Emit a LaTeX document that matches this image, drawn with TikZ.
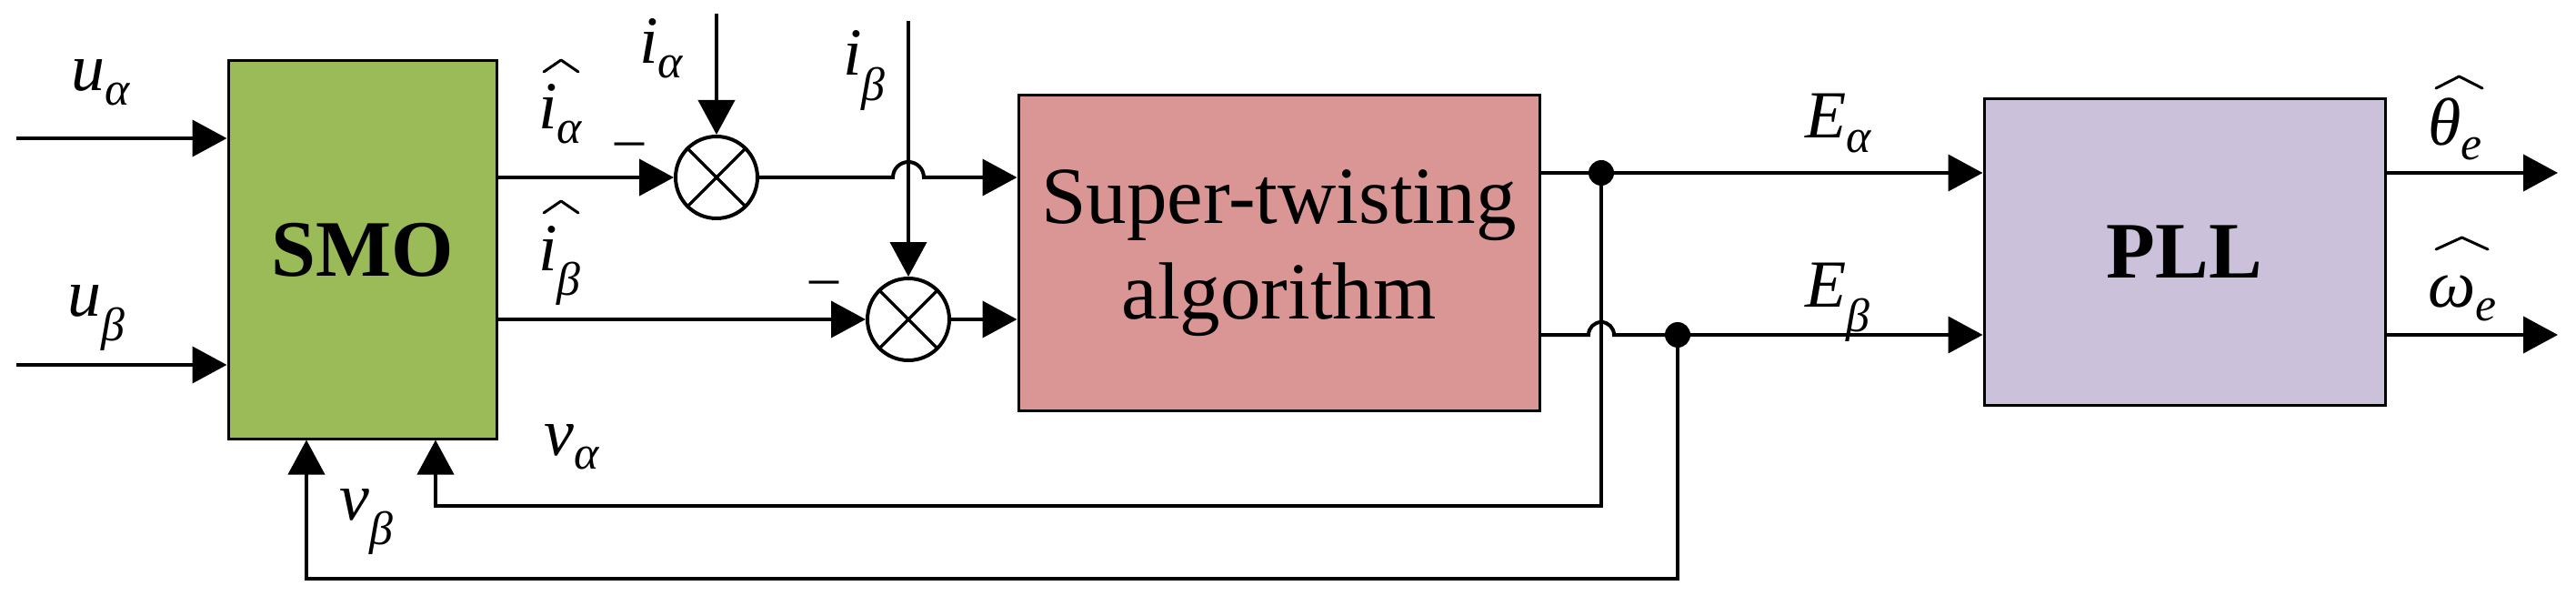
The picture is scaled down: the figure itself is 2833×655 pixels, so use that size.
\documentclass[tikz,border=0pt]{standalone}
\usepackage{amsmath}
\usepackage{fontspec}
\setmainfont{Liberation Serif}
\usetikzlibrary{arrows.meta,calc}
\definecolor{smogreen}{RGB}{155,187,89}
\definecolor{stpink}{RGB}{217,150,148}
\definecolor{pllpurple}{RGB}{204,193,218}
\newcommand{\lab}[2]{$\text{\textit{#1}}_{\text{\textit{#2}}}$}
% hat drawn over a label: node, left offset, right offset
\newcommand{\hatover}[3]{\draw[hatln] ($(#1.base west)+(#2,-63)$) -- ++({(#3-#2)/2},-13) -- ++({(#3-#2)/2},13);}
\begin{document}
\begin{tikzpicture}[x=1pt,y=-1pt,
  blk/.style={draw, line width=3pt, inner sep=0pt},
  wire/.style={line width=4pt},
  arr/.style={wire, -{Triangle[length=38pt,width=40pt]}},
  sumnode/.style={draw, circle, line width=4pt, minimum size=90pt, inner sep=0pt},
  lbl/.style={font=\fontsize{74}{80}\selectfont, inner sep=0pt, anchor=base west},
  hatln/.style={line width=3pt, line join=round, line cap=round},
  dotn/.style={circle, fill=black, minimum size=28pt, inner sep=0pt},
  minus/.style={font=\fontsize{64}{70}\selectfont, inner sep=0pt, anchor=base}]
\useasboundingbox (0,0) rectangle (2833,655);
% blocks
\node[blk, fill=smogreen, minimum width=295pt, minimum height=415pt,
      font=\fontsize{88}{100}\selectfont\bfseries] (smo) at (398.5,274.5) {SMO};
\node[blk, fill=stpink, minimum width=573pt, minimum height=346pt, align=center,
      font=\fontsize{89}{105}\selectfont] (st) at (1406.5,278) {Super-twisting\\algorithm};
\node[blk, fill=pllpurple, minimum width=441pt, minimum height=336pt,
      font=\fontsize{88}{100}\selectfont\bfseries] (pll) at (2402.5,277) {PLL};
% summing junctions
\node[sumnode] (sum1) at (788,195) {};
\node[sumnode] (sum2) at (999,351) {};
\draw[line width=3.5pt] (sum1.45) -- (sum1.225) (sum1.135) -- (sum1.315);
\draw[line width=3.5pt] (sum2.45) -- (sum2.225) (sum2.135) -- (sum2.315);
% junction dots
\node[dotn] (d1) at (1761,190) {};
\node[dotn] (d2) at (1845,368) {};
% free ends
\coordinate (ua) at (18,152);
\coordinate (ub) at (18,401);
\coordinate (ia) at (788,15);
\coordinate (ib) at (999,23);
\coordinate (th) at (2813,190);
\coordinate (om) at (2813,368);
\coordinate (vac) at (479,556);
\coordinate (vbc) at (337,636);
\coordinate (hopA) at (sum2 |- sum1);
% inputs
\draw[arr] (ua) -- (ua -| smo.west);
\draw[arr] (ub) -- (ub -| smo.west);
\draw[arr] (ia) -- (sum1.north);
\draw[arr] (ib) -- (sum2.north);
% SMO to sums
\draw[arr] (smo.east |- sum1) -- (sum1.west);
\draw[arr] (smo.east |- sum2) -- (sum2.west);
% sums to ST
\draw[arr] (sum1.east) -- ($(hopA)+(-17,0)$) arc[start angle=180, end angle=360, radius=17] -- (st.west |- sum1);
\draw[arr] (sum2.east) -- (st.west |- sum2);
% ST to PLL
\draw[arr] (st.east |- d1) -- (pll.west |- d1);
\draw[wire] (st.east |- d2) -- ($(d1 |- d2)+(-14,0)$) arc[start angle=180, end angle=360, radius=14] -- (d2.center);
\draw[arr] (d2.center) -- (pll.west |- d2);
% feedback
\draw[arr] (d1.center) |- (vac) -- (vac |- smo.south);
\draw[arr] (d2.center) |- (vbc) -- (vbc |- smo.south);
% outputs
\draw[arr] (pll.east |- d1) -- (th);
\draw[arr] (pll.east |- d2) -- (om);
% labels
\node[lbl] (lua) at (78,100) {\lab{u}{α}};
\node[lbl] (lub) at (74,347) {\lab{u}{β}};
\node[lbl] (lhia) at (592,142) {\lab{i}{α}};
\node[lbl] (lhib) at (592,297) {\lab{i}{β}};
\node[lbl] (lia) at (703,70) {\lab{i}{α}};
\node[lbl] (lib) at (927,83) {\lab{i}{β}};
\node[lbl] (lva) at (598,500) {\lab{v}{α}};
\node[lbl] (lvb) at (373,571) {\lab{v}{β}};
\node[lbl] (lea) at (1985,152) {\lab{E}{α}};
\node[lbl] (leb) at (1985,337) {\lab{E}{β}};
\node[lbl] (lth) at (2670,160) {\lab{θ}{e}};
\node[lbl] (lom) at (2670,337) {\lab{ω}{e}};
\hatover{lhia}{6}{44}
\hatover{lhib}{6}{44}
\hatover{lth}{9}{60}
\hatover{lom}{9}{66}
\node[minus] (m1) at (692,174) {–};
\node[minus] (m2) at (906,325) {–};
\end{tikzpicture}
\end{document}
